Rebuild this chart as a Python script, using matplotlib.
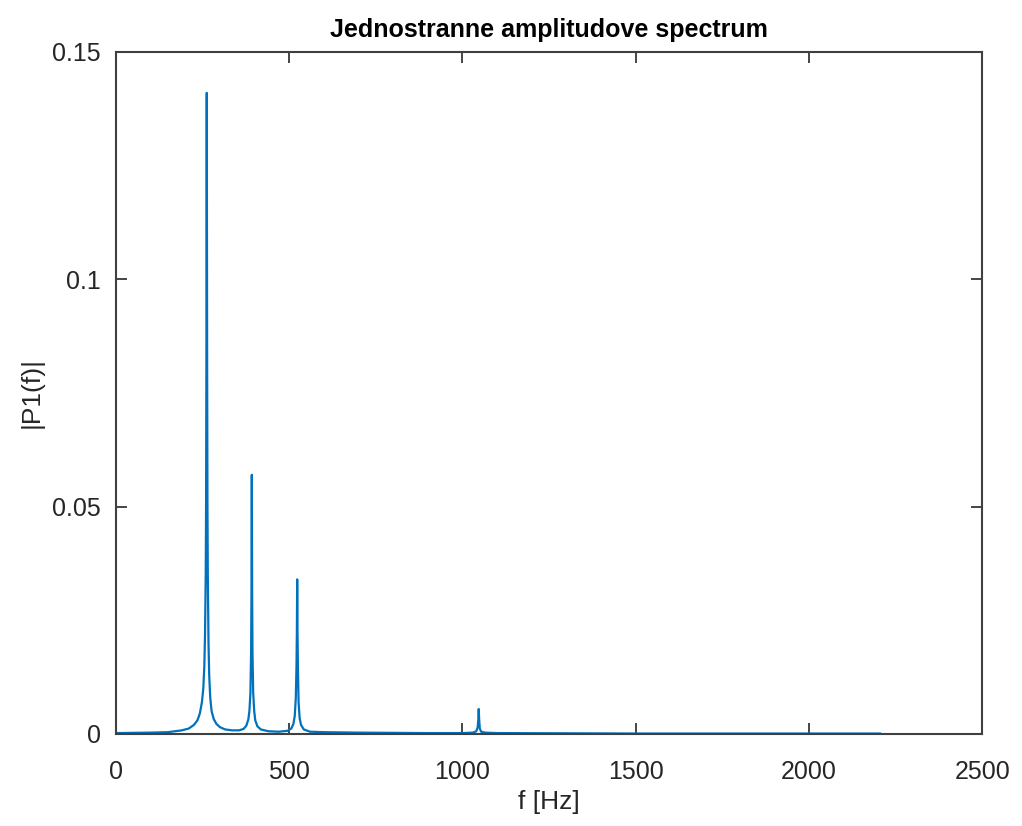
import matplotlib
matplotlib.use("Agg")
from matplotlib import pyplot as plt

# frekvencie [Hz] a amplitudy odcitane z grafu
freq = [0, 100, 150, 190, 210, 225, 235, 242, 248, 252, 255, 257, 259, 260, 261, 262,
        263, 264, 265, 267, 269, 272, 276, 282, 290, 300, 315, 335,
        355, 368, 376, 382, 385, 388, 390, 391, 392, 393, 394, 396, 399, 402, 408, 418, 440,
        470, 495, 506, 512, 516, 519, 521, 522, 523, 524, 525, 527, 530, 534, 542, 560, 600, 700,
        900, 1000, 1030, 1040, 1044, 1046, 1047, 1048, 1050, 1054, 1065, 1100, 1500, 2205]
amp = [0.0002, 0.0003, 0.0004, 0.0008, 0.0012, 0.002, 0.003, 0.0045, 0.007, 0.010, 0.015, 0.022, 0.035, 0.050, 0.085, 0.141,
       0.085, 0.050, 0.035, 0.020, 0.013, 0.008, 0.005, 0.0033, 0.0022, 0.0015, 0.001, 0.0008,
       0.0008, 0.0011, 0.0018, 0.0032, 0.005, 0.009, 0.018, 0.030, 0.057, 0.030, 0.018, 0.009, 0.005, 0.003, 0.0017, 0.001, 0.0006,
       0.0005, 0.0007, 0.0012, 0.0022, 0.004, 0.008, 0.015, 0.022, 0.034, 0.022, 0.015, 0.007, 0.0035, 0.002, 0.001, 0.0005, 0.0004, 0.0003,
       0.0002, 0.0002, 0.0003, 0.0006, 0.0015, 0.0035, 0.0055, 0.0035, 0.0012, 0.0005, 0.0003, 0.0002, 0.0001, 0.0001]

x_ticks = [0, 500, 1000, 1500, 2000, 2500]
y_ticks = [0, 0.05, 0.1, 0.15]
y_ticklabels = ['0', '0.05', '0.1', '0.15']

plt.rcParams['font.family'] = ['Liberation Sans', 'DejaVu Sans']

fig = plt.figure(figsize=(10.22, 8.26), dpi=100)
ax = fig.add_axes([0.1135, 0.1114, 0.8475, 0.8257])

ax.plot(freq, amp, color='#0072BD', linewidth=1.6)

ax.set_xlim(0, 2500)
ax.set_ylim(0, 0.15)
ax.set_xticks(x_ticks)
ax.set_xticklabels([str(t) for t in x_ticks])
ax.set_yticks(y_ticks)
ax.set_yticklabels(y_ticklabels)

ax.tick_params(direction='in', length=8, width=1.2, colors='#262626',
               labelsize=18, top=True, right=True)
ax.tick_params(axis='x', pad=19)
ax.tick_params(axis='y', pad=11)
for s in ax.spines.values():
    s.set_color('#404040')
    s.set_linewidth(1.5)

ax.set_title('Jednostranne amplitudove spectrum', fontsize=18, fontweight='bold', pad=11)
ax.set_xlabel('f [Hz]', fontsize=19, color='#262626', labelpad=4)
ax.set_ylabel('|P1(f)|', fontsize=19, color='#262626', labelpad=6)

fig.savefig('out.png', dpi=100, facecolor='white')
